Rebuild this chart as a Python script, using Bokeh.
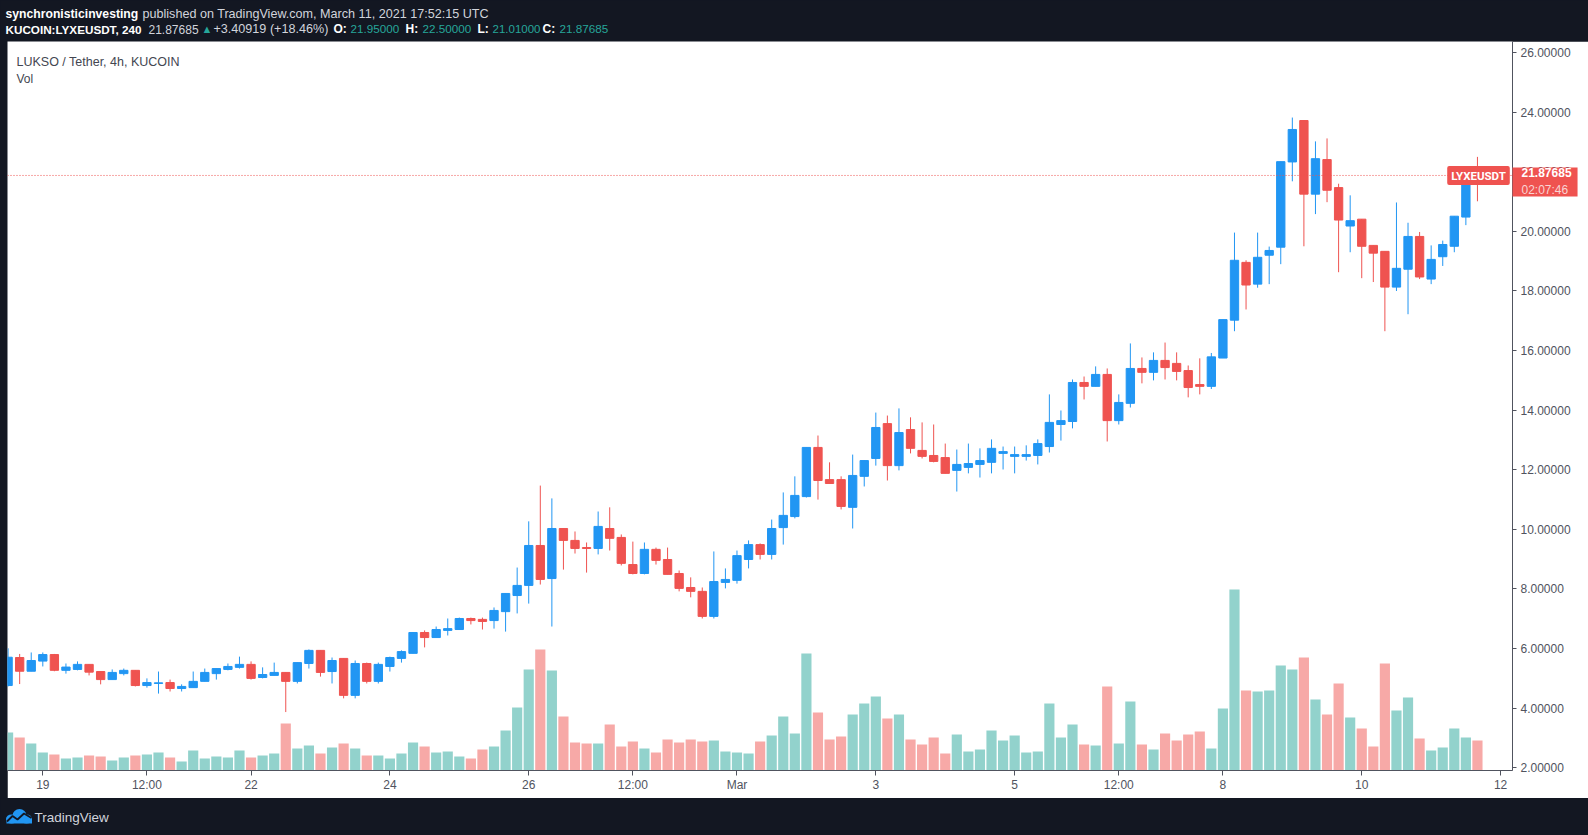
from bokeh.plotting import figure
from bokeh.models import Range1d, FixedTicker, PrintfTickFormatter, Label, Span, Spacer
from bokeh.layouts import column, row
from bokeh.embed import file_html
from bokeh.resources import INLINE

candle_index = list(range(-3, 125))
opens = [4.76, 5.70, 5.24, 5.58, 5.80, 5.27, 5.30, 5.47, 5.23, 4.96,
         5.16, 5.27, 4.76, 4.83, 4.86, 4.66, 4.69, 4.90, 5.16, 5.30,
         5.37, 5.47, 5.03, 5.10, 5.20, 4.90, 5.50, 5.94, 5.23, 5.67,
         4.43, 5.50, 4.90, 5.40, 5.67, 5.84, 6.54, 6.37, 6.61, 6.64,
         7.01, 6.98, 6.94, 7.24, 7.78, 8.12, 9.46, 8.35, 10.03, 9.63,
         9.39, 9.36, 10.03, 9.73, 8.82, 8.52, 9.33, 8.99, 8.52, 8.05,
         7.92, 7.08, 8.22, 8.29, 8.99, 9.49, 9.16, 10.06, 10.43, 11.10,
         12.75, 11.67, 11.67, 10.74, 11.78, 12.38, 13.55, 12.14, 13.35, 12.65,
         12.48, 12.41, 11.98, 12.08, 12.18, 12.25, 12.55, 12.45, 12.45, 12.48,
         12.78, 13.52, 13.62, 14.93, 14.80, 15.20, 13.65, 14.23, 15.40, 15.27,
         15.67, 15.57, 15.33, 14.86, 14.80, 15.75, 17.02, 18.96, 18.23, 19.20,
         19.47, 22.33, 23.72, 21.25, 22.41, 21.47, 20.18, 20.41, 19.53, 19.33,
         18.13, 18.73, 19.83, 18.40, 19.15, 19.50, 20.48, 21.95]
highs = [6.01, 5.82, 5.87, 5.87, 5.82, 5.50, 5.57, 5.47, 5.23, 5.30,
         5.33, 5.27, 5.00, 5.23, 4.96, 4.80, 5.23, 5.33, 5.33, 5.50,
         5.73, 5.57, 5.37, 5.53, 5.20, 5.53, 5.97, 5.94, 5.70, 5.67,
         5.60, 5.53, 5.53, 5.73, 5.94, 6.54, 6.61, 6.74, 7.01, 7.04,
         7.04, 7.04, 7.38, 7.85, 8.72, 10.27, 11.47, 11.04, 10.03, 9.93,
         9.56, 10.60, 10.74, 9.83, 9.59, 9.56, 9.39, 9.39, 8.62, 8.39,
         8.05, 9.26, 8.69, 9.29, 9.63, 9.53, 10.33, 11.24, 11.78, 12.75,
         13.15, 12.25, 11.78, 12.51, 12.31, 13.92, 13.82, 14.06, 13.76, 13.59,
         13.52, 12.88, 12.68, 12.88, 12.72, 13.02, 12.78, 12.78, 12.82, 13.02,
         14.53, 13.99, 15.03, 15.13, 15.47, 15.40, 14.53, 16.24, 15.77, 15.94,
         16.27, 15.94, 15.50, 15.74, 15.92, 17.04, 19.96, 19.03, 19.96, 19.49,
         22.34, 23.82, 23.72, 23.02, 23.12, 21.60, 21.21, 20.41, 19.53, 19.33,
         20.97, 20.29, 19.98, 19.53, 19.69, 20.51, 21.95, 22.50]
lows = [4.73, 4.81, 5.24, 5.40, 5.24, 5.16, 5.27, 5.10, 4.80, 4.96,
        5.10, 4.73, 4.69, 4.49, 4.56, 4.56, 4.69, 4.90, 4.96, 5.27,
        5.33, 4.96, 5.00, 5.10, 3.87, 4.83, 5.33, 5.06, 4.83, 4.33,
        4.33, 4.83, 4.83, 5.23, 5.53, 5.84, 6.04, 6.37, 6.44, 6.64,
        6.81, 6.64, 6.67, 6.57, 7.18, 7.51, 8.15, 6.74, 8.65, 9.19,
        8.55, 9.16, 9.29, 8.79, 8.49, 8.49, 8.82, 8.49, 7.92, 7.72,
        7.01, 7.01, 8.02, 8.18, 8.69, 8.99, 8.99, 9.49, 10.37, 11.07,
        11.00, 11.54, 10.67, 10.03, 11.44, 12.14, 11.64, 11.98, 12.55, 12.38,
        12.25, 11.88, 11.27, 11.88, 11.74, 11.88, 12.01, 11.88, 12.31, 12.18,
        12.58, 12.98, 13.39, 14.36, 14.80, 12.95, 13.52, 14.09, 14.90, 15.00,
        15.03, 15.00, 14.43, 14.53, 14.71, 15.75, 16.65, 17.38, 18.11, 18.23,
        18.90, 21.68, 19.50, 20.58, 20.98, 18.63, 19.30, 18.43, 18.30, 16.65,
        18.00, 17.22, 18.40, 18.23, 18.84, 19.30, 20.21, 21.01]
closes = [5.71, 5.24, 5.60, 5.80, 5.27, 5.38, 5.47, 5.21, 4.96, 5.20,
          5.27, 4.76, 4.86, 4.85, 4.66, 4.73, 4.90, 5.20, 5.33, 5.40,
          5.47, 5.00, 5.13, 5.20, 4.90, 5.53, 5.94, 5.20, 5.60, 4.43,
          5.50, 4.90, 5.47, 5.70, 5.90, 6.54, 6.37, 6.64, 6.67, 7.01,
          6.94, 6.91, 7.28, 7.85, 8.12, 9.46, 8.32, 10.03, 9.63, 9.36,
          9.36, 10.10, 9.70, 8.86, 8.52, 9.33, 8.96, 8.49, 8.02, 7.92,
          7.08, 8.25, 8.32, 9.12, 9.49, 9.16, 10.03, 10.47, 11.14, 12.75,
          11.64, 11.54, 10.77, 11.81, 12.31, 13.42, 12.14, 13.25, 12.72, 12.45,
          12.28, 11.88, 12.18, 12.21, 12.31, 12.72, 12.61, 12.51, 12.51, 12.88,
          13.59, 13.65, 14.93, 14.80, 15.20, 13.65, 14.26, 15.40, 15.27, 15.67,
          15.43, 15.30, 14.76, 14.80, 15.79, 17.04, 19.03, 18.20, 19.13, 19.36,
          22.34, 23.42, 21.25, 22.44, 21.38, 20.38, 20.36, 19.50, 19.27, 18.13,
          18.76, 19.83, 18.47, 19.06, 19.56, 20.51, 21.95, 21.87685]
volumes = [38, 33, 27, 18, 16, 12, 13, 15, 14, 10,
           13, 15, 16, 18, 13, 9, 20, 12, 14, 13,
           20, 13, 15, 17, 47, 22, 25, 17, 23, 27,
           22, 15, 15, 12, 17, 28, 24, 18, 19, 14,
           12, 21, 24, 40, 63, 101, 121, 100, 54, 28,
           27, 27, 46, 24, 29, 22, 18, 31, 28, 31,
           29, 30, 19, 18, 17, 29, 35, 54, 37, 117,
           58, 31, 34, 56, 67, 74, 52, 56, 31, 26,
           33, 17, 36, 19, 21, 40, 30, 35, 18, 19,
           67, 33, 46, 26, 25, 84, 27, 69, 26, 21,
           37, 30, 36, 39, 22, 62, 181, 80, 79, 80,
           105, 101, 113, 71, 56, 87, 53, 42, 24, 107,
           60, 73, 32, 20, 23, 42, 33, 30]

time_tick_positions = [0, 9, 18, 30, 42, 51, 60, 72, 84, 93, 102, 114, 126]
time_tick_labels = ["19", "12:00", "22", "24", "26", "12:00", "Mar", "3", "5", "12:00", "8", "10", "12"]
price_ticks = [2, 4, 6, 8, 10, 12, 14, 16, 18, 20, 22, 24, 26]
last_price = 21.87685
countdown = "02:07:46"
symbol = "LYXEUSDT"

# (text, x, colour, weight, font size)
header_line1 = [("synchronisticinvesting", 5, "#ffffff", "bold", 12.2),
                ("published on TradingView.com, March 11, 2021 17:52:15 UTC", 142, "#d1d4dc", "normal", 12.6)]
header_line2 = [("KUCOIN:LYXEUSDT, 240", 5, "#ffffff", "bold", 11.7),
                ("21.87685", 148, "#d1d4dc", "normal", 12),
                ("\u25B2", 201, "#26a69a", "normal", 11),
                ("+3.40919 (+18.46%)", 213, "#d1d4dc", "normal", 12.6),
                ("O:", 333, "#ffffff", "bold", 12), ("21.95000", 350, "#26a69a", "normal", 11.7),
                ("H:", 405, "#ffffff", "bold", 12), ("22.50000", 422, "#26a69a", "normal", 11.7),
                ("L:", 477, "#ffffff", "bold", 12), ("21.01000", 492, "#26a69a", "normal", 11.5),
                ("C:", 542, "#ffffff", "bold", 12), ("21.87685", 559, "#26a69a", "normal", 11.7)]

DARK = "#131722"
UP, DOWN = "#2196f3", "#ef5350"
VOL_UP, VOL_DOWN = "#92d2cc", "#f7a9a7"
AXIS_COL = "#50535e"
FONT = "Liberation Sans"
PAGE_W = 1588

up = [c >= o for o, c in zip(opens, closes)]
candle_colors = [UP if u else DOWN for u in up]
vol_colors = [VOL_UP if u else VOL_DOWN for u in up]
body_top = [max(o, c) for o, c in zip(opens, closes)]
body_bot = [min(o, c) for o, c in zip(opens, closes)]

# ---------------- header ----------------
h = figure(width=PAGE_W, height=41, x_range=Range1d(0, PAGE_W), y_range=Range1d(41, 0),
           toolbar_location=None, output_backend="svg", x_axis_location=None, y_axis_location=None,
           min_border=0, background_fill_color=DARK, border_fill_color=DARK, outline_line_color=None)
h.grid.visible = False
for segs, yy in ((header_line1, 13.3), (header_line2, 28.6)):
    for txt, xx, col, style, fs in segs:
        h.add_layout(Label(x=xx, y=yy, text=txt, text_font=FONT,
                           text_font_size=f"{fs}px", text_color=col, text_font_style=style,
                           text_baseline="middle", text_align="left"))

# ---------------- main chart (frame = page x 7..1512, y 41..770) ----------------
x_range = Range1d(-3.051, 127.03)
y_range = Range1d(1.909, 26.372)
p = figure(frame_width=1505, frame_height=729, x_range=x_range, y_range=y_range,
           y_axis_location="right", toolbar_location=None, output_backend="svg",
           min_border_left=0, min_border_top=0, min_border_right=69, min_border_bottom=28,
           background_fill_color="white", border_fill_color="white", outline_line_color=None)
p.grid.visible = False
p.extra_y_ranges = {"vol": Range1d(0, 729)}

p.vbar(x=candle_index, top=volumes, bottom=0, width=0.88, y_range_name="vol",
       fill_color=vol_colors, line_color=None)
p.add_layout(Span(location=last_price, dimension="width", line_color=DOWN, line_dash="1 2", line_width=1))
p.segment(x0=candle_index, y0=lows, x1=candle_index, y1=highs, line_color=candle_colors, line_width=1)
p.vbar(x=candle_index, top=body_top, bottom=body_bot, width=0.72,
       fill_color=candle_colors, line_color=candle_colors, line_width=1)

ya = p.yaxis[0]
ya.ticker = FixedTicker(ticks=price_ticks)
ya.formatter = PrintfTickFormatter(format="%.5f")
ya.axis_line_color = AXIS_COL
ya.major_tick_line_color = AXIS_COL
ya.major_tick_out = 4
ya.major_tick_in = 0
ya.minor_tick_line_color = None
ya.major_label_standoff = 4
ya.major_label_text_font = FONT
ya.major_label_text_font_size = "12px"
ya.major_label_text_color = AXIS_COL

xa = p.xaxis[0]
xa.ticker = FixedTicker(ticks=time_tick_positions)
xa.major_label_overrides = {t: l for t, l in zip(time_tick_positions, time_tick_labels)}
xa.axis_line_color = AXIS_COL
xa.major_tick_line_color = AXIS_COL
xa.major_tick_out = 5
xa.major_tick_in = 0
xa.minor_tick_line_color = None
xa.major_label_standoff = 2
xa.major_label_text_font = FONT
xa.major_label_text_font_size = "12px"
xa.major_label_text_color = AXIS_COL

p.add_layout(Label(x=9, y=729 - 20.7, x_units="screen", y_units="screen", text="LUKSO / Tether, 4h, KUCOIN",
                   text_font=FONT, text_font_size="12.5px", text_color="#434651", text_baseline="middle"))
p.add_layout(Label(x=9, y=729 - 37, x_units="screen", y_units="screen", text="Vol",
                   text_font=FONT, text_font_size="12px", text_color="#434651", text_baseline="middle"))

p.add_layout(Label(x=1471, y=last_price, x_units="screen", y_units="data", text=symbol,
                   text_font="Roboto", text_font_size="11.5px", text_font_style="bold", text_color="white",
                   text_align="center", text_baseline="middle",
                   background_fill_color=DOWN, padding=dict(left=4, right=4, top=3, bottom=2),
                   border_radius=2))

# price + countdown box on the price scale (side-panel labels are not clipped to the frame)
p.add_layout(Label(x=x_range.end, y=last_price, y_offset=8, text=f"{last_price:.5f}",
                   text_font=FONT, text_font_size="12px", text_font_style="bold", text_color="white",
                   text_align="left", text_baseline="top",
                   background_fill_color=DOWN, padding=dict(left=9, right=6, top=1, bottom=19)), "right")
p.add_layout(Label(x=x_range.end, y=last_price, y_offset=-8, text=countdown,
                   text_font=FONT, text_font_size="12px", text_color="#f9d4d3",
                   text_align="left", text_baseline="top",
                   padding=dict(left=9, right=0, top=0, bottom=0)), "right")

# ---------------- footer ----------------
f = figure(width=PAGE_W, height=37, x_range=Range1d(0, PAGE_W), y_range=Range1d(37, 0),
           toolbar_location=None, output_backend="svg", x_axis_location=None, y_axis_location=None,
           min_border=0, background_fill_color=DARK, border_fill_color=DARK, outline_line_color=None)
f.grid.visible = False
LOGO = "#2196f3"
f.ellipse(x=[11, 19, 26], y=[20.5, 17, 20.5], width=[11, 14, 11], height=[9, 13, 9],
          fill_color=LOGO, line_color=None)
f.quad(left=[6], right=[31.5], top=[20], bottom=[25], fill_color=LOGO, line_color=None)
f.line(x=[6.5, 12, 17, 23.5, 31], y=[23, 17.5, 21, 15, 19.5], line_color=DARK, line_width=1.8)
f.add_layout(Label(x=34, y=18.5, text="TradingView", text_font=FONT, text_font_size="13.5px",
                   text_color="#d1d4dc", text_baseline="middle"))

layout = column(h, row(Spacer(width=7, height=757), p, spacing=0), f, spacing=0)
html = file_html(layout, INLINE, title="LYXEUSDT")
html = html.replace("</head>", "<style>html, body {background:#131722; overflow:hidden;}</style></head>", 1)
open("out.html", "w").write(html)
